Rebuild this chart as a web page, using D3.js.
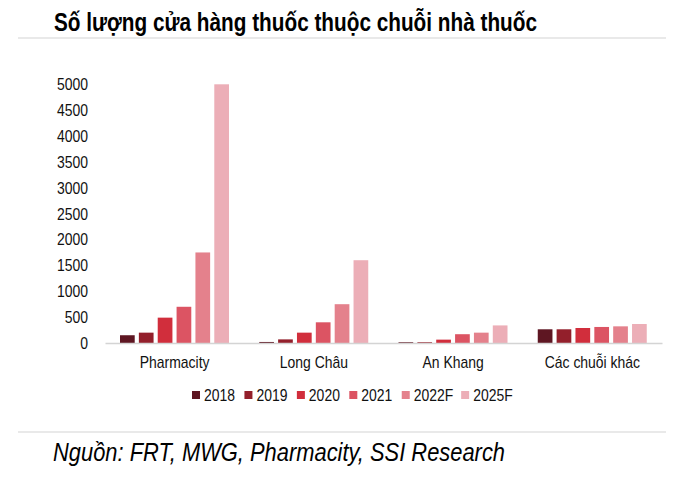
<!DOCTYPE html>
<html lang="vi">
<head>
<meta charset="UTF-8">
<title>Số lượng cửa hàng thuốc</title>
<script src="https://cdn.jsdelivr.net/npm/d3@7"></script>
<style>
  body { margin: 0; background: #fff; }
  text { font-family: "Liberation Sans", sans-serif; }
</style>
</head>
<body>
<div id="chart"></div>
<script>
// du lieu
const categories = ["Pharmacity", "Long Châu", "An Khang", "Các chuỗi khác"];
const years = ["2018", "2019", "2020", "2021", "2022F", "2025F"];
const pharmacity = [150, 200, 490, 700, 1750, 5000];
const longChau = [20, 70, 200, 400, 750, 1600];
const anKhang = [15, 15, 65, 170, 200, 340];
const others = [265, 265, 290, 310, 322, 367];
const yTicks = [0, 500, 1000, 1500, 2000, 2500, 3000, 3500, 4000, 4500, 5000];
const colors = ["#5e1622", "#931f2b", "#d12e3c", "#dc5463", "#e4818c", "#ecaeb7"];

const W = 680, H = 483;
const NARROW = 0.82; // chu hep kieu Helvetica Condensed
const FS = 17;
const seriesByCat = [pharmacity, longChau, anKhang, others];

// thu hep chu bang textLength
function condense(sel) {
  sel.each(function () {
    const w = this.getComputedTextLength();
    d3.select(this).attr("textLength", w * NARROW).attr("lengthAdjust", "spacingAndGlyphs");
  });
}

const svg = d3.select("#chart").append("svg")
  .attr("width", W).attr("height", H);

// tieu de
svg.append("text")
  .attr("x", 54).attr("y", 31)
  .attr("font-size", 25).attr("font-weight", "bold")
  .attr("fill", "#000")
  .attr("textLength", 483).attr("lengthAdjust", "spacingAndGlyphs")
  .text("Số lượng cửa hàng thuốc thuộc chuỗi nhà thuốc");

svg.append("line").attr("x1", 18).attr("x2", 666).attr("y1", 38).attr("y2", 38)
  .attr("stroke", "#e2e2e2").attr("stroke-width", 1.5);
svg.append("line").attr("x1", 18).attr("x2", 666).attr("y1", 432).attr("y2", 432)
  .attr("stroke", "#e2e2e2").attr("stroke-width", 1.5);

// thang do
const x0 = d3.scaleBand().domain(categories).range([105, 662]);
const x1 = d3.scaleBand().domain(years).range([15, 124]).paddingInner(0.22);
const y = d3.scaleLinear().domain([0, 5000]).range([343, 84.3]);

// truc y
const yAxis = svg.append("g")
  .attr("transform", "translate(105,0)")
  .call(d3.axisLeft(y).tickValues(yTicks).tickSize(0).tickPadding(17).tickFormat(d3.format("d")));
yAxis.select(".domain").remove();
yAxis.selectAll("text").attr("font-size", FS).attr("fill", "#111")
  .attr("font-family", "Liberation Sans, sans-serif").call(condense);

// cot
const groups = svg.selectAll("g.grp")
  .data(categories)
  .enter().append("g")
  .attr("class", "grp")
  .attr("transform", d => `translate(${x0(d)},0)`);

groups.selectAll("rect")
  .data((d, i) => seriesByCat[i].map((v, j) => ({ year: years[j], v: v, c: colors[j] })))
  .enter().append("rect")
  .attr("x", d => x1(d.year))
  .attr("width", x1.bandwidth())
  .attr("y", d => y(d.v))
  .attr("height", d => y(0) - y(d.v))
  .attr("fill", d => d.c);

// truc x
const xAxis = svg.append("g")
  .attr("transform", "translate(0,343)")
  .call(d3.axisBottom(x0).tickSize(0).tickPadding(13));
xAxis.select(".domain").attr("stroke", "#d4d4d4").attr("stroke-width", 1.5);
xAxis.selectAll("text").attr("font-size", FS).attr("fill", "#111")
  .attr("font-family", "Liberation Sans, sans-serif").call(condense);

// chu thich
const legend = svg.append("g").attr("transform", "translate(192,395)");
let lx = 0;
years.forEach((yr, i) => {
  const g = legend.append("g").attr("transform", `translate(${lx},0)`);
  g.append("rect").attr("x", 0).attr("y", -4).attr("width", 8).attr("height", 8).attr("fill", colors[i]);
  const t = g.append("text").attr("x", 12).attr("y", 0).attr("dy", "0.35em")
    .attr("font-size", FS).attr("fill", "#111").text(yr);
  t.call(condense);
  lx += 12 + t.node().getComputedTextLength() * NARROW + 15;
});

// nguon
svg.append("text")
  .attr("x", 53).attr("y", 461)
  .attr("font-size", 25).attr("font-style", "italic").attr("fill", "#000")
  .attr("textLength", 452).attr("lengthAdjust", "spacingAndGlyphs")
  .text("Nguồn: FRT, MWG, Pharmacity, SSI Research");
</script>
</body>
</html>
